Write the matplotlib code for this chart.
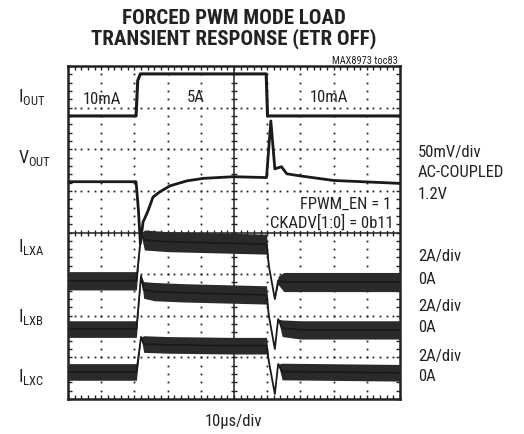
import numpy as np
import matplotlib
matplotlib.use("Agg")
import matplotlib.pyplot as plt
from matplotlib import font_manager as fm

# pick a narrow sans if there is one, else shrink plain Liberation Sans
names = {f.name for f in fm.fontManager.ttflist}
FONT, SC = "Liberation Sans", 0.87
for cand in ["Liberation Sans Narrow", "Arial Narrow", "Roboto Condensed", "Archivo Narrow"]:
    if cand in names:
        FONT, SC = cand, 1.0
        break
plt.rcParams["font.family"] = [FONT, "DejaVu Sans"]
plt.rcParams["mathtext.fontset"] = "custom"
plt.rcParams["mathtext.rm"] = FONT
plt.rcParams["mathtext.it"] = FONT

# --- data, in scope divisions (x: 0..10, y: 0..8) ---
t_iout = [0, 2.05, 2.1, 2.18, 5.97, 6.01, 10]
iout = [6.80, 6.80, 7.65, 7.81, 7.81, 6.80, 6.80]

t_vout = [0, 2.05, 2.12, 2.18, 2.26, 2.4, 2.56, 2.77, 3.07, 3.58, 4.07, 4.97, 5.98,
          6.11, 6.23, 6.43, 6.59, 6.99, 8.0, 10]
vout = [5.22, 5.22, 4.55, 3.73, 4.25, 4.5, 4.85, 4.98, 5.12, 5.24, 5.3, 5.34, 5.32,
        6.68, 5.53, 5.58, 5.41, 5.36, 5.25, 5.18]

t_lxa = [0, 2.06, 2.2, 2.3, 3.0, 5.0, 5.98, 6.05, 6.23, 6.33, 6.5, 10]
ilxa = [2.84, 2.84, 3.95, 3.82, 3.78, 3.74, 3.72, 3.2, 2.40, 2.85, 2.81, 2.81]
rip_a = [0.22, 0.22, 0, 0.24, 0.24, 0.24, 0.24, 0, 0, 0.1, 0.23, 0.23]

t_lxb = [0, 2.06, 2.2, 2.28, 2.6, 3.5, 5.0, 5.98, 6.05, 6.23, 6.33, 6.45, 7.0, 10]
ilxb = [1.68, 1.68, 2.96, 2.62, 2.58, 2.55, 2.52, 2.5, 2.0, 1.20, 1.92, 1.70, 1.66, 1.66]
rip_b = [0.2, 0.2, 0, 0.2, 0.22, 0.22, 0.22, 0.22, 0, 0, 0, 0.2, 0.22, 0.22]

t_lxc = [0, 2.06, 2.2, 2.28, 3.0, 5.0, 5.98, 6.05, 6.23, 6.33, 6.45, 10]
ilxc = [0.65, 0.65, 1.49, 1.32, 1.30, 1.28, 1.28, 0.9, 0.12, 0.84, 0.66, 0.63]
rip_c = [0.2, 0.2, 0, 0.2, 0.2, 0.2, 0.2, 0, 0, 0, 0.2, 0.2]

left_labels = [r"$\mathrm{I_{OUT}}$", r"$\mathrm{V_{OUT}}$", r"$\mathrm{I_{LXA}}$",
               r"$\mathrm{I_{LXB}}$", r"$\mathrm{I_{LXC}}$"]
left_y = [97, 158, 247, 317, 377]
right_labels = ["50mV/div", "AC-COUPLED", "1.2V", "2A/div", "0A", "2A/div", "0A", "2A/div", "0A"]
right_y = [153, 173, 195, 257, 280, 307, 328, 357, 377]

W, H = 524, 435
fig = plt.figure(figsize=(W / 100, H / 100), dpi=100)
ax = fig.add_axes([68 / W, 1 - 400 / H, 332 / W, 333 / H])
ax.set_xlim(0, 10)
ax.set_ylim(0, 8)

def px(x, y):
    return x / W, 1 - y / H

# dotted graticule
fine_x = np.arange(1, 50) * 0.2
fine_y = np.arange(1, 40) * 0.2
for i in range(1, 10):
    if i != 5:
        ax.plot(np.full_like(fine_y, i), fine_y, ls="none", marker="s", ms=1.3,
                mec="none", mfc="#222222", zorder=1)
for j in range(1, 8):
    if j != 4:
        ax.plot(fine_x, np.full_like(fine_x, j), ls="none", marker="s", ms=1.3,
                mec="none", mfc="#222222", zorder=1)
# centre cross with small ticks
ax.axvline(5, color="#222222", lw=1.1, zorder=1)
ax.axhline(4, color="#222222", lw=1.1, zorder=1)
ax.plot(np.full_like(fine_y, 5), fine_y, ls="none", marker="_", ms=5, mew=1.0,
        color="#222222", zorder=1)
ax.plot(fine_x, np.full_like(fine_x, 4), ls="none", marker="|", ms=5, mew=1.0,
        color="#222222", zorder=1)

# border ticks
ax.set_xticks(np.arange(0, 10.01, 0.2))
ax.set_yticks(np.arange(0, 8.01, 0.2))
ax.tick_params(direction="in", length=3, width=1, top=True, right=True,
               labelbottom=False, labelleft=False, color="#222222")
for s in ax.spines.values():
    s.set_linewidth(1.8)
    s.set_color("#222222")

# traces
ax.plot(t_iout, iout, color="#1a1a1a", lw=2.2, zorder=3)
ax.plot(t_vout, vout, color="#1a1a1a", lw=2.0, zorder=3)
for t, c, r in [(t_lxa, ilxa, rip_a), (t_lxb, ilxb, rip_b), (t_lxc, ilxc, rip_c)]:
    c = np.array(c)
    r = np.array(r)
    ax.fill_between(t, c - r, c + r, color="#2a2a2a", lw=0, zorder=3)
    ax.plot(t, c, color="#1a1a1a", lw=1.3, zorder=3)

# in-plot annotations
fs = 12 * SC
tk = dict(fontsize=fs, color="#222222", zorder=5)
fig.text(*px(102, 100), "10mA", ha="center", va="center", **tk)
fig.text(*px(196, 98), "5A", ha="center", va="center", **tk)
fig.text(*px(329, 97), "10mA", ha="center", va="center", **tk)
box = dict(facecolor="white", edgecolor="none", pad=0.5)
fig.text(*px(391, 204), "FPWM_EN = 1", ha="right", va="center", bbox=box, **tk)
fig.text(*px(394, 223), "CKADV[1:0] = 0b11", ha="right", va="center", bbox=box, **tk)

# titles and side labels
fig.text(*px(234, 29), "FORCED PWM MODE LOAD\nTRANSIENT RESPONSE (ETR OFF)",
         ha="center", va="center", fontsize=15 * SC, fontweight="bold",
         color="#222222", linespacing=1.0)
fig.text(*px(398, 61), "MAX8973 toc83", ha="right", va="center", fontsize=7.5,
         color="#222222")
for lab, y in zip(left_labels, left_y):
    fig.text(*px(18, y), lab, ha="left", va="center", fontsize=13 * SC, color="#222222")
for lab, y in zip(right_labels, right_y):
    fig.text(*px(418, y), lab, ha="left", va="center", fontsize=fs, color="#222222")
fig.text(*px(233, 422), "10\u00b5s/div", ha="center", va="center", fontsize=fs,
         color="#222222")

fig.savefig("out.png", dpi=100)
